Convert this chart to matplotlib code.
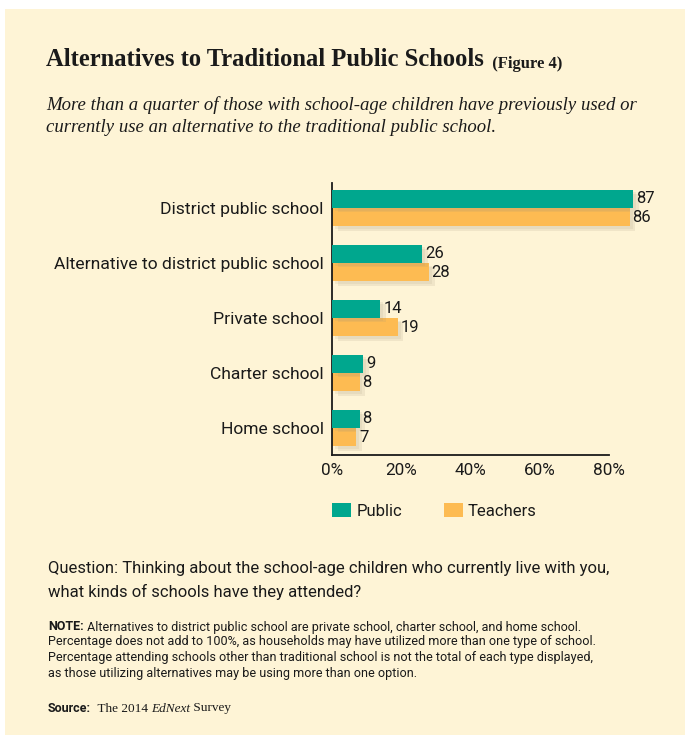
import matplotlib
matplotlib.use('Agg')
import matplotlib.pyplot as plt
import matplotlib.patheffects as pe
from matplotlib.patches import Rectangle, Patch
import numpy as np

categories = ["District public school", "Alternative to district public school",
              "Private school", "Charter school", "Home school"]
public = [87, 26, 14, 9, 8]
teachers = [86, 28, 19, 8, 7]
xticks = [0, 20, 40, 60, 80]
series_names = ["Public", "Teachers"]

GREEN = '#00a78e'
ORANGE = '#fdbb52'
CREAM = '#fef4d6'
INK = '#1a1a1a'
SANS = 'Roboto'
SERIF = 'Liberation Serif'

W, H = 690, 744
fig = plt.figure(figsize=(W / 100, H / 100), dpi=100, facecolor='white')

# cream panel, on its own background axes
bg = fig.add_axes([0, 0, 1, 1], zorder=-1)
bg.set_axis_off()
bg.set_xlim(0, W)
bg.set_ylim(H, 0)
bg.add_patch(Rectangle((5, 9), 680, 726, facecolor=CREAM, edgecolor='none'))

# ----------------------------------------------------
# bars
# ----------------------------------------------------
ax = fig.add_axes([332 / W, 1 - 455 / H, (609 - 332) / W, (455 - 183) / H], zorder=2)
ax.set_facecolor('none')
y = np.arange(len(categories))
h = 0.335
shadow = [pe.SimplePatchShadow(offset=(4, -3), shadow_rgbFace='#a09478', alpha=0.15),
          pe.SimplePatchShadow(offset=(2, -2), shadow_rgbFace='#a09478', alpha=0.12),
          pe.Normal()]
b1 = ax.barh(y - h / 2, public, height=h, color=GREEN, clip_on=False, zorder=3)
b2 = ax.barh(y + h / 2, teachers, height=h, color=ORANGE, clip_on=False, zorder=2)
for bars in (b1, b2):
    for p in bars:
        p.set_path_effects(shadow)

for yy, v in zip(y - h / 2, public):
    ax.text(v + 0.8, yy, f"{v}", va='center', ha='left', fontsize=12,
            family=SANS, color=INK, zorder=5)
for yy, v in zip(y + h / 2, teachers):
    ax.text(v + 0.8, yy, f"{v}", va='center', ha='left', fontsize=12,
            family=SANS, color=INK, zorder=5)

ax.set_xlim(0, 80)
ax.set_ylim(4.49, -0.455)
ax.set_yticks(y)
ax.set_yticklabels(categories, family=SANS, fontsize=12.6, color=INK)
ax.set_xticks(xticks)
ax.set_xticklabels([f"{t}%" for t in xticks], family=SANS, fontsize=12.3, color=INK)
ax.tick_params(length=0, pad=6)
for s in ('top', 'right'):
    ax.spines[s].set_visible(False)
for s in ('left', 'bottom'):
    ax.spines[s].set_color(INK)
    ax.spines[s].set_linewidth(1.3)

handles = [Patch(facecolor=GREEN), Patch(facecolor=ORANGE)]
leg = fig.legend(handles, series_names, loc='center left',
                 bbox_to_anchor=(317 / W, 1 - 511 / H), ncol=2, frameon=False,
                 handlelength=1.15, handleheight=0.95, handletextpad=0.3,
                 columnspacing=2.5, prop={'family': SANS, 'size': 12})
for t in leg.get_texts():
    t.set_color(INK)

# ----------------------------------------------------
# titles and notes
# ----------------------------------------------------
title = fig.text(46 / W, 1 - 60 / H, "Alternatives to Traditional Public Schools",
                 family=SERIF, fontweight='bold', fontsize=17.7, color=INK, va='center')
bg.annotate("  (Figure 4)", xy=(1, 0), xycoords=title, va='bottom', ha='left',
            family=SERIF, fontweight='bold', fontsize=12, color=INK)

fig.text(46 / W, 1 - 105 / H,
         "More than a quarter of those with school-age children have previously used or",
         family=SERIF, style='italic', fontsize=13.5, color=INK, va='center')
fig.text(46 / W, 1 - 128 / H,
         "currently use an alternative to the traditional public school.",
         family=SERIF, style='italic', fontsize=13.5, color=INK, va='center')

fig.text(48 / W, 1 - 568 / H,
         "Question: Thinking about the school-age children who currently live with you,",
         family=SANS, fontsize=12, color=INK, va='center')
fig.text(48 / W, 1 - 592 / H, "what kinds of schools have they attended?",
         family=SANS, fontsize=12, color=INK, va='center')

note = fig.text(48 / W, 1 - 627 / H, "NOTE:", family=SANS, fontweight='bold',
                fontsize=9, color=INK, va='center')
bg.annotate(" Alternatives to district public school are private school, charter school, and home school.",
            xy=(1, 0), xycoords=note, va='bottom', ha='left',
            family=SANS, fontsize=9, color=INK)
note_lines = [
    "Percentage does not add to 100%, as households may have utilized more than one type of school.",
    "Percentage attending schools other than traditional school is not the total of each type displayed,",
    "as those utilizing alternatives may be using more than one option.",
]
for i, line in enumerate(note_lines):
    fig.text(48 / W, 1 - (642 + 15.5 * i) / H, line, family=SANS, fontsize=9.1,
             color=INK, va='center')

src = fig.text(48 / W, 1 - 708 / H, "Source:", family=SANS, fontweight='bold',
               fontsize=9, color=INK, va='center')
a1 = bg.annotate("  The 2014 ", xy=(1, 0), xycoords=src, va='bottom', ha='left',
                 family=SERIF, fontsize=9.5, color=INK)
a2 = bg.annotate("EdNext", xy=(1, 0), xycoords=a1, va='bottom', ha='left',
                 family=SERIF, style='italic', fontsize=9.5, color=INK)
bg.annotate(" Survey", xy=(1, 0), xycoords=a2, va='bottom', ha='left',
            family=SERIF, fontsize=9.5, color=INK)

fig.savefig('out.png', dpi=100, facecolor='white')
